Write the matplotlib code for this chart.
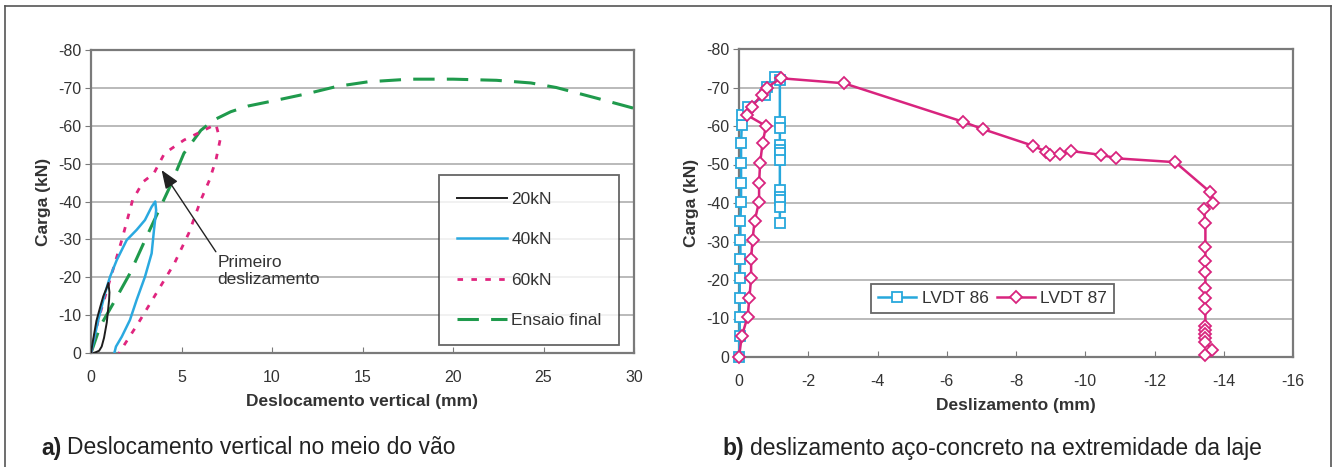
import matplotlib
matplotlib.use("Agg")
import matplotlib.pyplot as plt
from matplotlib.lines import Line2D

plt.rcParams['font.family'] = ['Liberation Sans', 'DejaVu Sans']
plt.rcParams['axes.unicode_minus'] = False

# ---------------- data: panel a ----------------
x20 = [0, 0.1, 0.3, 0.5, 0.68, 0.85, 0.96, 1.02, 1.0, 0.87, 0.72, 0.59, 0.45, 0.31, 0.15]
y20 = [0, -3, -8.5, -12, -15, -17, -18.5, -16, -14, -8, -4, -1.7, -0.6, -0.3, 0]

x40 = [0, 0.4, 0.77, 1.05, 1.42, 1.97, 2.52, 2.98, 3.35, 3.55, 3.6, 3.48, 3.35, 2.98, 2.52, 2.15, 1.7, 1.38, 1.29]
y40 = [0, -8.7, -15.7, -20.1, -24.5, -29.8, -32.5, -35.1, -38.6, -40, -37.7, -32.5, -26.3, -20.1, -14, -8.7, -4.3, -1.7, 0]

x60 = [0, 0.4, 0.99, 1.7, 2.3, 2.88, 3.47, 4.06, 5.13, 6.07, 6.9, 7.13, 6.9, 6.54, 6.07, 5.4, 4.6, 3.6, 2.6, 1.55]
y60 = [0, -8.7, -18.4, -29.8, -40.4, -45.2, -47.4, -52.7, -56.2, -58.4, -60.4, -56.2, -50.9, -45.6, -40.4, -31.6, -23.6, -15.7, -7.8, 0]

xfin = [0, 0.5, 1.23, 2.15, 3.07, 4.36, 5.13, 6.07, 6.78, 7.72, 8.67, 10.3, 11.97, 13.6, 15.3, 17.6, 20.0, 22.4, 24.3, 25.7, 28.0, 30.0]
yfin = [0, -7, -13.1, -21, -30.7, -43.9, -52.7, -58.8, -61.5, -63.7, -65.2, -66.8, -68.5, -70.4, -71.6, -72.3, -72.3, -72.0, -71.3, -70.1, -67.2, -64.6]

series_a_labels = ['20kN', '40kN', '60kN', 'Ensaio final']
xticks_a = [0, 5, 10, 15, 20, 25, 30]
yticks = [0, -10, -20, -30, -40, -50, -60, -70, -80]

# ---------------- data: panel b ----------------
x86 = [0, -0.02, -0.02, -0.02, -0.02, -0.04, -0.04, -0.04, -0.06, -0.06, -0.06, -0.06, -0.08, -0.08,
       -0.27, -0.75, -0.8, -1.04, -1.18, -1.18, -1.18, -1.18, -1.18, -1.18, -1.18, -1.18, -1.18, -1.18, -1.18, -1.18]
y86 = [0, -5.5, -10.5, -15.4, -20.5, -25.4, -30.4, -35.3, -40.3, -45.2, -50.4, -55.5, -60.3, -62.9,
       -65, -68, -70.2, -72.8, -72, -61.1, -59.4, -55, -53.8, -53, -51.2, -43.4, -41.6, -40.8, -39, -34.8]

x87 = [0, -0.08, -0.25, -0.3, -0.35, -0.35, -0.39, -0.45, -0.58, -0.58, -0.61, -0.68, -0.78,
       -0.22, -0.37, -0.65, -0.8, -1.21, -3.03, -6.47, -7.04, -8.48, -8.88, -8.98, -9.28, -9.59,
       -10.46, -10.9, -12.6, -13.6, -13.69, -13.43, -13.47, -13.47, -13.47, -13.47, -13.47, -13.47,
       -13.47, -13.47, -13.47, -13.47, -13.47, -13.47, -13.66, -13.47]
y87 = [0, -5.4, -10.5, -15.4, -20.5, -25.4, -30.4, -35.3, -40.3, -45.2, -50.4, -55.5, -60,
       -62.9, -65, -68, -70, -72.4, -71.1, -61.1, -59.2, -54.9, -53.3, -52.5, -52.7, -53.5,
       -52.5, -51.6, -50.6, -42.9, -40.1, -38.4, -34.7, -28.5, -25, -22.2, -17.8, -15.2,
       -12.4, -8, -7, -6, -5, -4, -1.8, -0.5]

series_b_labels = ['LVDT 86', 'LVDT 87']
xticks_b = [0, -2, -4, -6, -8, -10, -12, -14, -16]

# ---------------- styles ----------------
C_BLACK = '#1e1e1e'
C_BLUE = '#2aa9e0'
C_PINK = '#e0257f'
C_GREEN = '#1f9a4c'
C_CYAN = '#27a8dc'
C_MAG = '#d8247e'
SPINE = '#7a7a7a'
GRID = '#b4b4b4'
TXT = '#333333'

fig = plt.figure(figsize=(13.33, 4.67), dpi=100)


def style_axes(ax):
    for s in ax.spines.values():
        s.set_color(SPINE)
        s.set_linewidth(1.6)
    ax.yaxis.grid(True, color=GRID, linewidth=1.3)
    ax.set_axisbelow(True)
    ax.tick_params(axis='y', direction='out', length=4, color=SPINE, labelsize=11.5,
                   labelcolor=TXT, pad=3)
    ax.tick_params(axis='x', direction='in', length=4, color=SPINE, labelsize=11.5,
                   labelcolor=TXT, pad=12)


# ---------------- panel a ----------------
axa = fig.add_axes([91 / 1333, 1 - 353 / 467, 543 / 1333, 303 / 467])
axa.plot(xfin, yfin, color=C_GREEN, lw=2.2, dashes=(7, 4), label=series_a_labels[3], zorder=3)
axa.plot(x60, y60, color=C_PINK, lw=2.0, dashes=(2, 3), label=series_a_labels[2], zorder=4)
axa.plot(x40, y40, color=C_BLUE, lw=1.8, label=series_a_labels[1], zorder=5)
axa.plot(x20, y20, color=C_BLACK, lw=1.4, label=series_a_labels[0], zorder=6)
axa.set_xlim(0, 30)
axa.set_ylim(0, -80)
axa.set_xticks(xticks_a)
axa.set_yticks(yticks)
style_axes(axa)
axa.set_xlabel('Deslocamento vertical (mm)', fontsize=12.5, fontweight='bold', color=TXT, labelpad=7)
axa.set_ylabel('Carga (kN)', fontsize=12.5, fontweight='bold', color=TXT, labelpad=5)

h, l = axa.get_legend_handles_labels()
order = [3, 2, 1, 0]
leg = axa.legend([h[i] for i in order], [l[i] for i in order], loc='center',
                 bbox_to_anchor=(0.807, 0.307), frameon=True, fancybox=False,
                 edgecolor='#404040', fontsize=12.5, labelspacing=1.45, handlelength=2.9,
                 handletextpad=0.25, borderpad=1.0, borderaxespad=0)
leg.get_frame().set_linewidth(1.3)
for t in leg.get_texts():
    t.set_color(TXT)

axa.annotate('Primeiro\ndeslizamento', xy=(3.9, -48.3), xytext=(7.0, -26.0),
             fontsize=12.5, color=TXT, ha='left', va='top', linespacing=1.2,
             arrowprops=dict(arrowstyle='-|>,head_length=0.9,head_width=0.35', color='#222222',
                             lw=1.0, shrinkA=0, shrinkB=0,
                             relpos=(0.0, 1.0)), zorder=7)

# ---------------- panel b ----------------
axb = fig.add_axes([739 / 1333, 1 - 357 / 467, 554 / 1333, 308 / 467])
axb.plot(x86, y86, color=C_CYAN, lw=1.8, marker='s', ms=6.5, mfc='white', mec=C_CYAN,
         mew=1.3, label=series_b_labels[0], clip_on=False, zorder=4)
axb.plot(x87, y87, color=C_MAG, lw=1.8, marker='D', ms=6.0, mfc='white', mec=C_MAG,
         mew=1.3, label=series_b_labels[1], clip_on=False, zorder=5)
axb.set_xlim(0, -16)
axb.set_ylim(0, -80)
axb.set_xticks(xticks_b)
axb.set_yticks(yticks)
style_axes(axb)
axb.set_xlabel('Deslizamento (mm)', fontsize=12.5, fontweight='bold', color=TXT, labelpad=7)
axb.set_ylabel('Carga (kN)', fontsize=12.5, fontweight='bold', color=TXT, labelpad=5)
legb = axb.legend(loc='center', bbox_to_anchor=(0.458, 0.19), ncol=2, frameon=True,
                  fancybox=False, edgecolor='#404040', fontsize=12.5, handlelength=2.2,
                  handletextpad=0.3, columnspacing=0.5, borderpad=0.4, borderaxespad=0)
legb.get_frame().set_linewidth(1.3)
for t in legb.get_texts():
    t.set_color(TXT)

# ---------------- outer frame ----------------
fx0, fx1, fy1 = 5 / 1333, 1331 / 1333, 1 - 6 / 467
for xs, ys in [([fx0, fx0], [0, fy1]), ([fx0, fx1], [fy1, fy1]), ([fx1, fx1], [fy1, 0])]:
    fig.add_artist(Line2D(xs, ys, transform=fig.transFigure, color='#555555', lw=1.2))

# ---------------- captions ----------------
fig.canvas.draw()
renderer = fig.canvas.get_renderer()


def caption(x_px, bold, rest):
    y = 1 - 448 / 467
    t1 = fig.text(x_px / 1333, y, bold, fontsize=16.5, fontweight='bold', color='#222222',
                  va='center', ha='left')
    bb = t1.get_window_extent(renderer=renderer)
    fig.text((bb.x1 + 6) / 1333, y, rest, fontsize=16.5, color='#222222', va='center', ha='left')


caption(41, 'a)', 'Deslocamento vertical no meio do vão')
caption(722, 'b)', 'deslizamento aço-concreto na extremidade da laje')

fig.savefig('out.png', dpi=100)
